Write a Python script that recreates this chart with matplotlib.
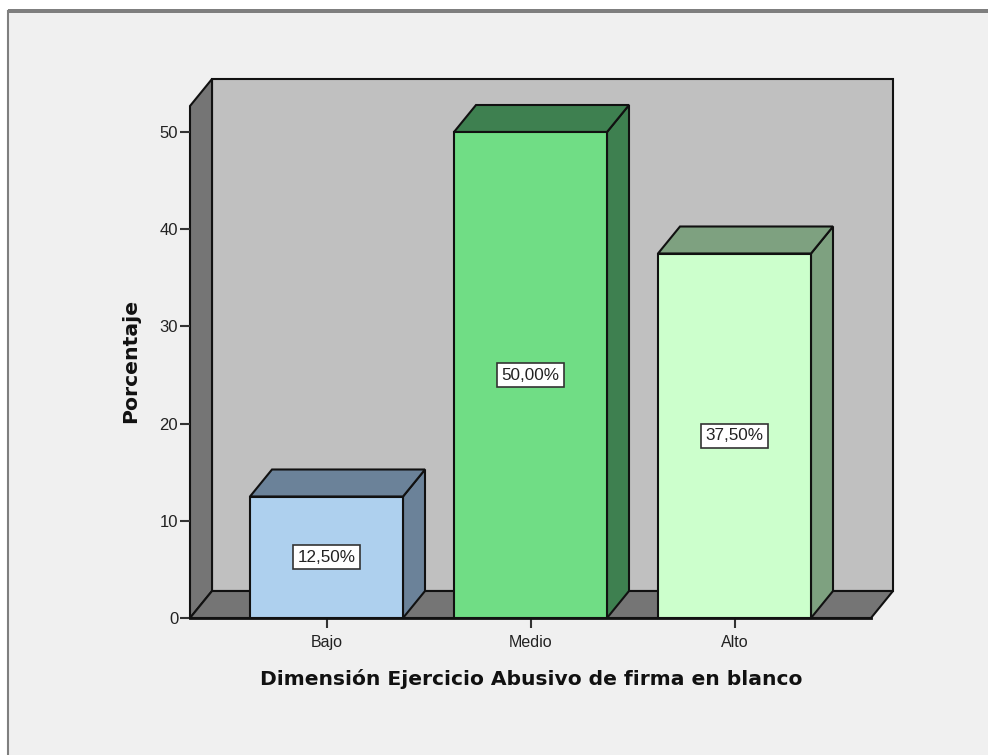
import matplotlib
matplotlib.use("Agg")
import matplotlib.pyplot as plt
from matplotlib.patches import Polygon, Rectangle

categories = ["Bajo", "Medio", "Alto"]
porcentajes = [12.5, 50.0, 37.5]
etiquetas = ["12,50%", "50,00%", "37,50%"]
y_ticks = [0, 10, 20, 30, 40, 50]

colores_frente = ["#aed0ee", "#70dd85", "#ccffcc"]
colores_lado = ["#6b8299", "#3e8050", "#7ea180"]

W, H = 988, 755
plt.rcParams["font.family"] = ["Liberation Sans", "DejaVu Sans"]

fig = plt.figure(figsize=(W / 100, H / 100), dpi=100, facecolor="white")

# marco de la ventana (solo arriba e izquierda, el resto queda cortado)
fig.patches.append(Rectangle((8 / W, -0.02), 1.0, (H - 11) / H + 0.02, transform=fig.transFigure,
                             facecolor="#f0f0f0", edgecolor="#7f7f7f", linewidth=1.5, zorder=-1))
fig.patches.append(Rectangle((8 / W, (H - 12.5) / H), 1.0, 3 / H, transform=fig.transFigure,
                             facecolor="#7f7f7f", edgecolor="none", zorder=-1))

# ejes: frente del piso de x=190 a x=871, y=0 en 618, y=50 en 132
px_x = 204.0
px_y = 486.0 / 50
left, right = 190, 871
bottom, top = 618, 106
ax = fig.add_axes([left / W, (H - bottom) / H, (right - left) / W, (bottom - top) / H])
ax.set_xlim((left - 326.5) / px_x, (right - 326.5) / px_x)
ax.set_ylim(0, (bottom - top) / px_y)
ax.patch.set_visible(False)
for s in ax.spines.values():
    s.set_visible(False)

dx = 22 / px_x
dy = 27 / px_y
x0, x1 = ax.get_xlim()
y1 = ax.get_ylim()[1]
LW = 1.5
NEGRO = "#111111"


def poligono(puntos, color, z=1):
    ax.add_patch(Polygon(puntos, closed=True, facecolor=color, edgecolor=NEGRO,
                         linewidth=LW, zorder=z, clip_on=False, joinstyle="miter"))


# paredes y piso
poligono([(x0 + dx, dy), (x1 + dx, dy), (x1 + dx, y1 + dy), (x0 + dx, y1 + dy)], "#c0c0c0")
poligono([(x0, 0), (x0 + dx, dy), (x0 + dx, y1 + dy), (x0, y1)], "#757575")
poligono([(x0, 0), (x1, 0), (x1 + dx, dy), (x0 + dx, dy)], "#757575")

# barras 3D
ancho = 0.75
for i, (v, cf, cl, et) in enumerate(zip(porcentajes, colores_frente, colores_lado, etiquetas)):
    a, b = i - ancho / 2, i + ancho / 2
    poligono([(b, 0), (b + dx, dy), (b + dx, v + dy), (b, v)], cl, 3)
    poligono([(a, v), (b, v), (b + dx, v + dy), (a + dx, v + dy)], cl, 3)
    ax.bar(i, v, width=ancho, color=cf, edgecolor=NEGRO, linewidth=LW, zorder=4, clip_on=False)
    ax.text(i, v / 2, et, ha="center", va="center", fontsize=12.3, color="#222222", zorder=5,
            bbox=dict(boxstyle="square,pad=0.25", facecolor="white", edgecolor="#333333", linewidth=1.2))

ax.plot([x0, x1], [0, 0], color=NEGRO, linewidth=2, zorder=6, clip_on=False)

ax.set_xticks(range(len(categories)))
ax.set_xticklabels(categories)
ax.set_yticks(y_ticks)
ax.tick_params(axis="x", length=7.5, width=1.5, color="#333333", labelsize=11.5, labelcolor="#222222", pad=4.5)
ax.tick_params(axis="y", length=7.5, width=1.5, color="#333333", labelsize=12, labelcolor="#222222", pad=1)

fig.text(131 / W, (H - 361) / H, "Porcentaje", rotation=90, ha="center", va="center",
         fontsize=14.7, fontweight="bold", color="#111111", family="DejaVu Sans")
fig.text(531 / W, (H - 679) / H, "Dimensión Ejercicio Abusivo de firma en blanco", ha="center", va="center",
         fontsize=14.6, fontweight="bold", color="#111111", family="DejaVu Sans")

fig.savefig("out.png", dpi=100, facecolor=fig.get_facecolor())
